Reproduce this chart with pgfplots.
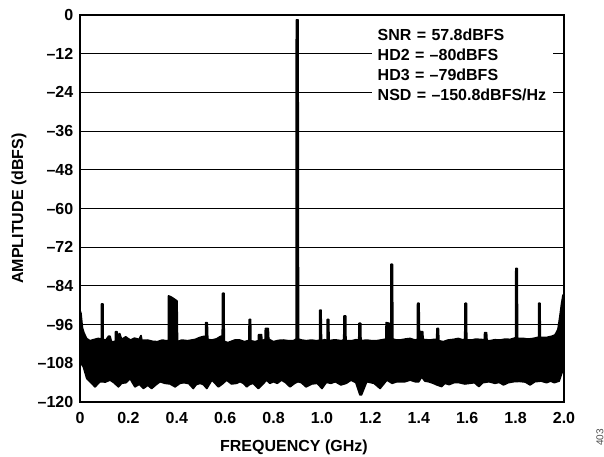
\documentclass[border=0pt]{standalone}
\usepackage{fontspec}
\setmainfont{Liberation Sans}
\usepackage{pgfplots}
\pgfplotsset{compat=1.18}
\begin{document}
\begin{tikzpicture}
\path[use as bounding box] (-60pt,-41.25pt) rectangle (393pt,301.5pt);
\begin{axis}[
  scale only axis, width=363pt, height=290.25pt,
  xmin=0, xmax=2, ymin=-120, ymax=0,
  xtick={0,0.2,0.4,0.6,0.8,1.0,1.2,1.4,1.6,1.8,2.0},
  xticklabels={0,0.2,0.4,0.6,0.8,1.0,1.2,1.4,1.6,1.8,2.0},
  ytick={0,-12,-24,-36,-48,-60,-72,-84,-96,-108,-120},
  yticklabels={0,–12,–24,–36,–48,–60,–72,–84,–96,–108,–120},
  major tick length=0pt,
  ymajorgrids, grid style={black, line width=0.75pt},
  axis line style={line width=1.1pt},
  tick label style={font=\fontsize{12}{14}\selectfont\bfseries},
  yticklabel style={xshift=-1.5pt},
  xticklabel style={yshift=-4.5pt},
  xlabel={FREQUENCY (GHz)}, ylabel={AMPLITUDE (dBFS)},
  label style={font=\fontsize{12}{14}\selectfont\bfseries},
  xlabel style={at={(axis description cs:0.442,-0.1163)}, anchor=center},
  ylabel style={at={(axis description cs:-0.126,0.5)}, anchor=center},
]
\addplot[draw=black, fill=black, line width=1.25pt, line join=round] coordinates {
(0.000,-108.0) (0.000,-91.7) (0.004,-92.5) (0.010,-97.0) (0.016,-98.5) (0.027,-100.3) (0.041,-101.0) (0.060,-100.6) (0.075,-100.3)
(0.089,-100.5) (0.089,-89.6) (0.095,-89.6) (0.095,-100.6) (0.107,-100.8) (0.118,-99.6) (0.124,-99.6) (0.130,-101.4)
(0.146,-101.2) (0.147,-98.2) (0.153,-98.2) (0.156,-99.4) (0.164,-98.8) (0.172,-100.6) (0.189,-99.8) (0.200,-100.4)
(0.209,-100.8) (0.225,-100.2) (0.244,-100.6) (0.252,-99.4) (0.256,-100.9) (0.279,-100.8) (0.300,-101.2) (0.320,-101.3)
(0.340,-100.8) (0.355,-101.0) (0.366,-101.0) (0.366,-87.1) (0.378,-87.5) (0.392,-88.2) (0.401,-88.7) (0.403,-101.3)
(0.420,-100.8) (0.445,-101.0) (0.476,-100.6) (0.495,-100.0) (0.510,-99.7) (0.519,-99.7) (0.519,-95.4) (0.526,-95.4)
(0.528,-100.6) (0.545,-100.8) (0.565,-100.4) (0.580,-99.7) (0.588,-99.5) (0.589,-86.3) (0.595,-86.3) (0.596,-101.2)
(0.611,-101.6) (0.639,-100.8) (0.661,-100.8) (0.680,-101.3) (0.698,-100.9) (0.699,-94.4) (0.705,-94.4) (0.706,-101.0)
(0.723,-101.3) (0.737,-101.0) (0.738,-99.1) (0.750,-99.1) (0.752,-101.0) (0.765,-100.6) (0.766,-97.2) (0.778,-97.2)
(0.780,-100.5) (0.799,-101.3) (0.820,-100.9) (0.840,-100.8) (0.862,-101.0) (0.882,-101.0) (0.893,-100.5) (0.894,-1.5)
(0.901,-1.5) (0.903,-100.5) (0.916,-100.8) (0.935,-101.0) (0.957,-100.8) (0.975,-101.0) (0.990,-100.9) (0.991,-91.5)
(0.996,-91.5) (0.998,-101.0) (1.010,-100.7) (1.021,-100.9) (1.022,-94.4) (1.028,-94.4) (1.029,-101.0) (1.045,-100.8)
(1.061,-100.8) (1.080,-101.0) (1.090,-100.7) (1.091,-93.3) (1.098,-93.3) (1.099,-101.0) (1.123,-101.0) (1.140,-100.7)
(1.152,-100.8) (1.153,-95.6) (1.160,-95.6) (1.161,-101.0) (1.185,-100.8) (1.205,-101.0) (1.226,-101.0) (1.250,-100.7)
(1.264,-100.5) (1.265,-95.4) (1.278,-95.6) (1.285,-99.0) (1.285,-77.3) (1.291,-77.3) (1.293,-100.5) (1.309,-100.8)
(1.322,-100.8) (1.343,-100.5) (1.364,-100.3) (1.385,-100.8) (1.394,-100.6) (1.395,-89.4) (1.401,-89.4) (1.403,-100.0)
(1.406,-98.2) (1.416,-98.2) (1.418,-100.6) (1.446,-100.8) (1.462,-100.6) (1.474,-100.6) (1.475,-97.2) (1.481,-97.2)
(1.483,-101.0) (1.501,-101.3) (1.520,-100.8) (1.543,-100.6) (1.563,-100.3) (1.580,-100.7) (1.590,-100.6) (1.591,-89.4)
(1.597,-89.4) (1.598,-100.8) (1.618,-100.8) (1.635,-100.5) (1.653,-100.6) (1.671,-100.7) (1.672,-98.5) (1.680,-98.5)
(1.682,-101.0) (1.694,-101.0) (1.715,-100.7) (1.736,-100.8) (1.757,-100.5) (1.777,-100.6) (1.796,-100.2) (1.800,-100.0)
(1.801,-78.6) (1.807,-78.6) (1.808,-100.3) (1.832,-100.3) (1.852,-100.5) (1.873,-100.3) (1.890,-100.0) (1.895,-100.0)
(1.895,-89.4) (1.901,-89.4) (1.902,-100.0) (1.928,-100.0) (1.950,-99.6) (1.963,-99.2) (1.975,-97.5) (1.983,-93.5)
(1.990,-89.5) (1.996,-86.8) (2.000,-86.8)
(2.000,-109.0) (1.994,-110.5) (1.990,-111.2) (1.980,-113.5) (1.960,-114.0) (1.945,-113.5) (1.928,-114.0) (1.905,-113.5)
(1.880,-113.7) (1.860,-114.7) (1.840,-113.8) (1.815,-113.6) (1.792,-113.7) (1.770,-114.0) (1.750,-114.7) (1.732,-113.9)
(1.715,-114.2) (1.690,-113.7) (1.665,-114.0) (1.648,-115.2) (1.630,-114.0) (1.610,-114.2) (1.590,-114.4) (1.567,-114.0)
(1.545,-114.0) (1.525,-114.6) (1.508,-114.2) (1.494,-115.2) (1.475,-114.7) (1.460,-114.2) (1.440,-113.7) (1.425,-113.5)
(1.412,-112.2) (1.400,-113.7) (1.385,-113.7) (1.364,-113.2) (1.343,-113.7) (1.322,-113.7) (1.309,-113.7) (1.290,-114.2)
(1.268,-113.2) (1.240,-115.8) (1.215,-114.2) (1.185,-113.7) (1.163,-117.8) (1.157,-117.8) (1.140,-114.0) (1.120,-113.2)
(1.100,-114.2) (1.078,-114.7) (1.055,-113.7) (1.037,-114.2) (1.018,-113.9) (1.000,-115.8) (0.980,-114.2) (0.958,-114.4)
(0.934,-115.3) (0.915,-114.0) (0.900,-113.7) (0.885,-114.3) (0.868,-115.3) (0.850,-114.0) (0.833,-113.2) (0.815,-114.2)
(0.799,-113.7) (0.785,-114.2) (0.771,-113.2) (0.755,-114.5) (0.737,-115.8) (0.715,-114.2) (0.700,-114.6) (0.689,-115.3)
(0.675,-114.2) (0.661,-113.7) (0.647,-114.2) (0.626,-114.4) (0.606,-113.2) (0.590,-114.3) (0.572,-115.3) (0.558,-114.2)
(0.545,-113.2) (0.524,-115.8) (0.510,-114.6) (0.496,-114.2) (0.480,-114.6) (0.468,-115.8) (0.450,-114.3) (0.430,-114.0)
(0.413,-114.2) (0.393,-115.3) (0.372,-114.4) (0.351,-114.2) (0.331,-113.7) (0.315,-114.6) (0.296,-115.8) (0.280,-114.8)
(0.262,-115.8) (0.245,-114.5) (0.227,-115.3) (0.215,-113.8) (0.207,-112.7) (0.190,-114.0) (0.172,-114.2) (0.159,-115.3)
(0.140,-114.0) (0.124,-113.2) (0.105,-113.8) (0.083,-113.7) (0.062,-115.3) (0.045,-114.0) (0.028,-112.7) (0.014,-109.1)
(0.004,-108.0) (0.000,-108.0)
};
\node[anchor=north west, fill=white, inner xsep=4.1pt, inner ysep=2pt, text width=127.5pt, align=left,
      font=\fontsize{12}{15}\selectfont\bfseries] at (axis cs:1.2066,-3.3)
  {SNR = 57.8dBFS\\HD2 = –80dBFS\\HD3 = –79dBFS\\NSD = –150.8dBFS/Hz};
\end{axis}
\node[rotate=90, font=\fontsize{7.5}{9}\selectfont, text=black!70] at ([xshift=27pt, yshift=-26.6pt]current axis.south east) {403};
\end{tikzpicture}
\end{document}
